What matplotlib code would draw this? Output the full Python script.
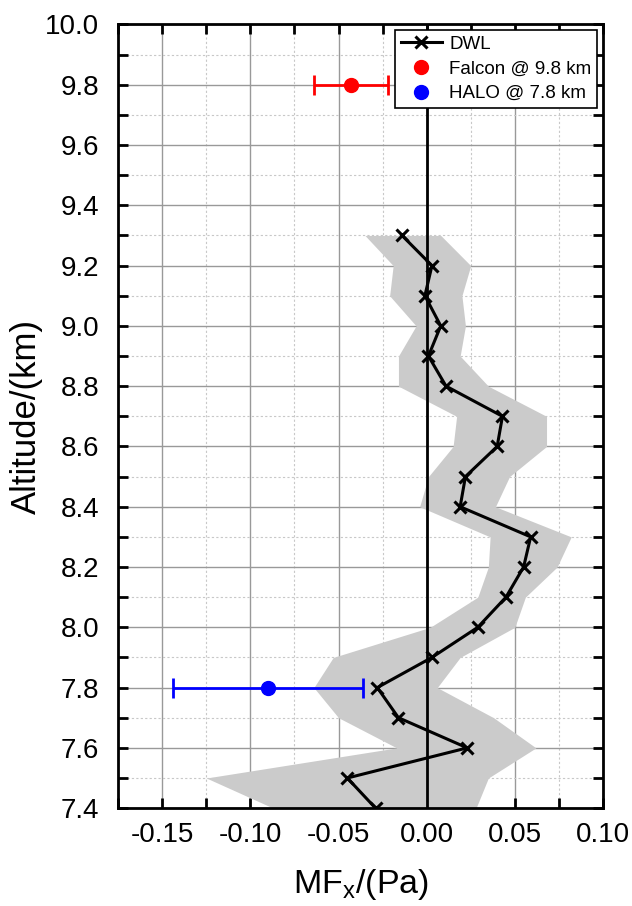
import numpy as np
import matplotlib
matplotlib.use("Agg")
import matplotlib.pyplot as plt
from matplotlib.ticker import MultipleLocator, FormatStrFormatter

plt.rcParams['font.family'] = ['Liberation Sans', 'DejaVu Sans']

# DWL profile
altitude = [9.3, 9.2, 9.1, 9.0, 8.9, 8.8, 8.7, 8.6, 8.5, 8.4,
            8.3, 8.2, 8.1, 8.0, 7.9, 7.8, 7.7, 7.6, 7.5, 7.4]
mf_dwl = [-0.014, 0.003, -0.001, 0.008, 0.001, 0.011, 0.043, 0.040, 0.022, 0.019,
          0.059, 0.055, 0.045, 0.029, 0.003, -0.028, -0.016, 0.023, -0.045, -0.029]
band_low = [-0.035, -0.019, -0.021, -0.006, -0.016, -0.016, 0.017, 0.015, 0.001, -0.004,
            0.036, 0.035, 0.029, 0.002, -0.053, -0.064, -0.050, -0.017, -0.125, -0.087]
band_high = [0.008, 0.025, 0.020, 0.022, 0.019, 0.035, 0.068, 0.068, 0.047, 0.039,
             0.082, 0.074, 0.056, 0.050, 0.019, 0.006, 0.038, 0.062, 0.035, 0.028]

# aircraft measurements
falcon_alt, falcon_mf, falcon_err = 9.8, -0.043, 0.021
halo_alt, halo_mf, halo_err = 7.8, -0.090, 0.054


def main():
    fig = plt.figure(figsize=(6.32, 9.06), dpi=100)
    ax = fig.add_axes([0.187, 0.108, 0.767, 0.865])

    ax.fill_betweenx(altitude, band_low, band_high, color='#cbcbcb', lw=0, zorder=1)
    ax.axvline(0, color='black', lw=2, zorder=2)
    ax.plot(mf_dwl, altitude, color='black', lw=2.2, marker='x', ms=9, mew=2.2,
            label='DWL', zorder=4)
    ax.errorbar(falcon_mf, falcon_alt, xerr=falcon_err, fmt='o', color='red',
                ms=10, elinewidth=2, capsize=7, capthick=2, zorder=5)
    ax.errorbar(halo_mf, halo_alt, xerr=halo_err, fmt='o', color='blue',
                ms=10, elinewidth=2, capsize=7, capthick=2, zorder=5)
    # legend entries without error bars
    ax.plot([], [], 'o', color='red', ms=10, label='Falcon @ 9.8 km')
    ax.plot([], [], 'o', color='blue', ms=10, label='HALO @ 7.8 km')

    ax.set_xlim(-0.175, 0.10)
    ax.set_ylim(7.4, 10.0)
    ax.xaxis.set_major_locator(MultipleLocator(0.05))
    ax.xaxis.set_minor_locator(MultipleLocator(0.025))
    ax.yaxis.set_major_locator(MultipleLocator(0.2))
    ax.yaxis.set_minor_locator(MultipleLocator(0.1))
    ax.xaxis.set_major_formatter(FormatStrFormatter('%.2f'))
    ax.yaxis.set_major_formatter(FormatStrFormatter('%.1f'))

    ax.grid(which='major', color='#999999', lw=1, zorder=0)
    ax.grid(which='minor', color='#c8c8c8', lw=0.8, ls=(0, (2, 2)), zorder=0)
    ax.set_axisbelow(True)

    ax.tick_params(which='both', direction='in', top=True, right=True,
                   length=7, width=2, labelsize=20)
    ax.tick_params(axis='x', pad=10)
    ax.tick_params(axis='y', pad=13.5)
    for s in ax.spines.values():
        s.set_linewidth(2)

    ax.set_xlabel('MF$_\\mathregular{x}$/(Pa)', fontsize=24.5, labelpad=14)
    ax.set_ylabel('Altitude/(km)', fontsize=25, labelpad=2)

    leg = ax.legend(loc='upper right', fontsize=13.5, frameon=True, fancybox=False,
                    edgecolor='black', framealpha=1, borderaxespad=0.3,
                    handlelength=2.2, handletextpad=0.4, borderpad=0.3,
                    labelspacing=0.4)
    leg.get_frame().set_linewidth(1.2)

    fig.savefig('out.png', dpi=100)


if __name__ == '__main__':
    main()
